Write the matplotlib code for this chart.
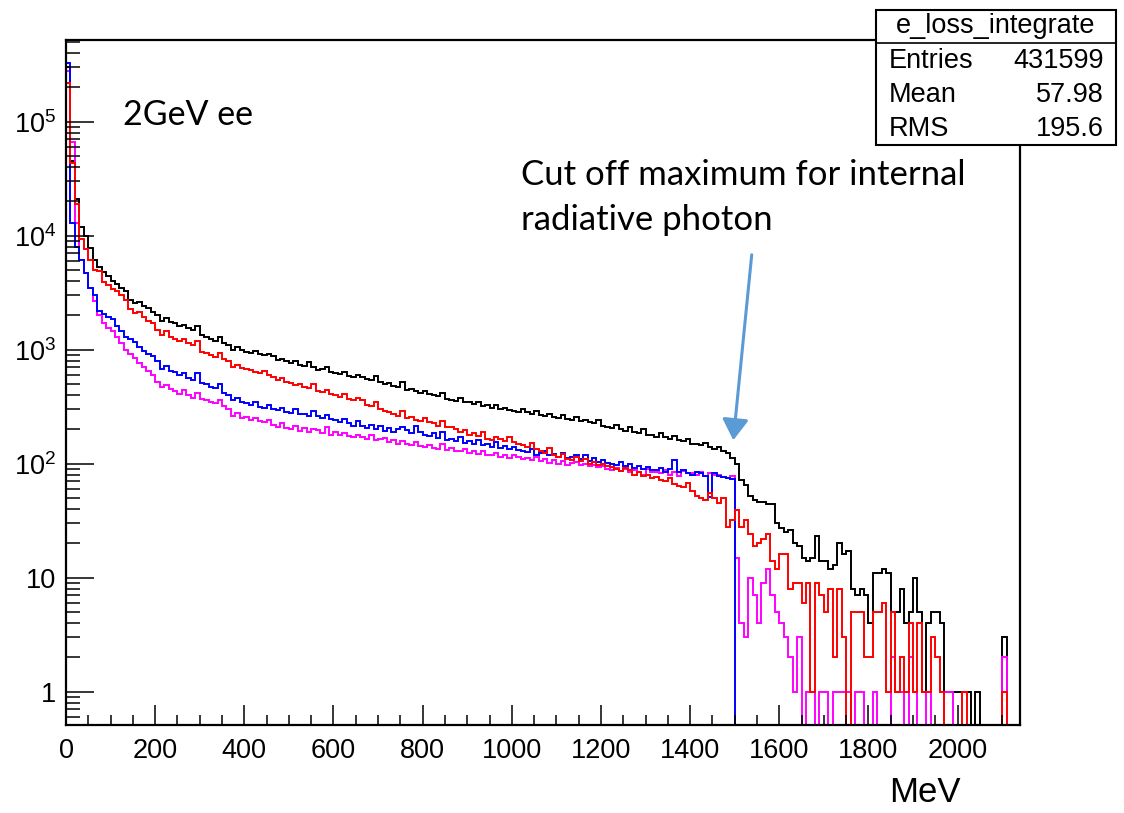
import numpy as np
import matplotlib
matplotlib.use("Agg")
import matplotlib.pyplot as plt
from matplotlib import font_manager as fm
from matplotlib.patches import Rectangle, FancyArrowPatch
from matplotlib.lines import Line2D
from matplotlib.ticker import FixedLocator, FixedFormatter, NullFormatter

# ---------------- data (counts per 10 MeV bin, 0..2140 MeV) ----------------
BIN_WIDTH = 10
X_MAX = 2140

black = (
    [300000, 45000, 21000, 12000, 10000, 7800, 6100, 5300, 4800, 4400,
     4000, 3800, 3500, 3300, 2700, 2550, 2600, 2400, 2300, 2150,
     2000, 1800, 1900, 1750, 1700, 1600, 1650, 1550, 1500, 1600,
     1350, 1300, 1250, 1200, 1280, 1150, 1100, 1000, 1050, 990,
     960, 940, 980, 920, 900, 920, 880, 810, 830, 790,
     770, 800, 740, 720, 780, 700, 660, 680, 700, 640,
     620, 610, 640, 590, 580, 600, 570, 550, 540, 590,
     520, 500, 510, 480, 470, 520, 440, 450, 430, 420,
     430, 410, 400, 390, 420, 370, 360, 355, 380, 350,
     345, 335, 350, 320, 325, 305, 330, 300, 310, 295,
     290, 285, 300, 285, 275, 290, 265, 260, 275, 255,
     250, 265, 245, 240, 258, 235, 240, 230, 225, 240,
     215, 210, 205, 220, 200, 195, 210, 190, 185, 200,
     180, 178, 172, 185, 170, 165, 175, 160, 158, 165,
     150, 148, 145, 152, 140, 135, 140, 128, 125, 112]
    + [100, 72, 65, 52, 48, 46, 46, 44, 44, 30, 27, 25, 26, 20, 19, 15, 14, 15,
       23, 14, 14, 12, 13, 20, 16, 17, 8]
    + [7, 8, 7, 4, 11, 11, 12, 11, 5, 5, 8, 4, 5, 10, 5, 1, 4, 5, 5, 4,
       1, 1, 1, 1, 1, 1, 0, 1, 0, 0, 0, 0, 0, 3, 0, 0, 0]
)

red = (
    [220000, 43000, 19000, 9400, 7700, 6100, 5000, 4900, 3900, 3700,
     3400, 3300, 3000, 2700, 2250, 2100, 2150, 1950, 1800, 1700,
     1500, 1350, 1450, 1300, 1250, 1200, 1250, 1150, 1100, 1180,
     950, 930, 900, 870, 940, 820, 800, 700, 740, 690,
     680, 660, 640, 620, 650, 600, 580, 540, 560, 520,
     510, 490, 500, 470, 460, 500, 430, 425, 445, 410,
     400, 385, 410, 370, 360, 375, 360, 330, 320, 345,
     300, 290, 285, 270, 260, 290, 250, 255, 240, 235,
     250, 230, 225, 215, 235, 210, 210, 200, 190, 198,
     180, 185, 175, 190, 165, 160, 172, 165, 158, 170,
     155, 150, 145, 140, 152, 135, 130, 125, 138, 120,
     115, 122, 110, 108, 115, 105, 110, 100, 104, 98,
     100, 95, 94, 90, 86, 92, 88, 80, 85, 78,
     80, 75, 77, 72, 70, 75, 66, 64, 62, 68,
     58, 52, 50, 48, 55, 50, 45, 50, 28, 32]
    + [39, 28, 32, 24, 19, 20, 22, 24, 14, 12, 16, 16, 8, 9, 9, 6, 9, 1, 9, 7,
       5, 8, 2, 8, 3, 0, 5, 5]
    + [5, 2, 2, 5, 5, 6, 1, 5, 1, 2, 1, 4, 1, 4, 1, 1, 3, 2, 1, 0,
       0, 0, 0, 1, 0, 0, 0, 0, 0, 0, 0, 0, 1, 0, 0, 0]
)

blue = (
    [330000, 13000, 7900, 6100, 4700, 3450, 3000, 2200, 2050, 1950,
     1850, 1600, 1450, 1300, 1250, 1170, 1050, 980, 920, 880,
     800, 680, 720, 650, 640, 600, 620, 560, 540, 620,
     510, 500, 470, 460, 500, 420, 400, 360, 380, 350,
     340, 330, 345, 316, 310, 325, 300, 295, 310, 285,
     280, 300, 270, 275, 262, 290, 260, 250, 268, 245,
     240, 230, 248, 225, 215, 238, 215, 205, 220, 200,
     212, 195, 205, 190, 200, 210, 196, 185, 212, 188,
     180, 175, 185, 168, 190, 162, 165, 158, 172, 152,
     158, 150, 162, 145, 148, 140, 155, 138, 144, 135,
     140, 132, 128, 127, 135, 120, 125, 130, 118, 122,
     115, 125, 112, 115, 120, 110, 118, 106, 112, 104,
     108, 102, 100, 97, 104, 95, 100, 92, 96, 90,
     93, 88, 88, 92, 85, 90, 108, 85, 88, 82,
     80, 85, 83, 78, 51, 82, 78, 76, 75, 74]
    + [0] * 64
)

magenta = (
    [280000, 66000, 13000, 6100, 4700, 3450, 2650, 2000, 1700, 1550,
     1450, 1300, 1150, 1000, 920, 850, 760, 700, 650, 600,
     520, 470, 490, 450, 430, 410, 440, 400, 380, 420,
     370, 360, 350, 340, 365, 320, 300, 260, 280, 250,
     255, 240, 250, 235, 230, 240, 220, 210, 225, 205,
     200, 215, 195, 205, 190, 200, 196, 185, 208, 180,
     190, 178, 185, 175, 170, 180, 172, 165, 178, 160,
     165, 168, 155, 160, 150, 158, 150, 145, 155, 142,
     140, 145, 138, 135, 150, 132, 137, 130, 128, 135,
     125, 130, 122, 128, 118, 120, 125, 115, 120, 112,
     118, 115, 110, 112, 108, 115, 105, 110, 102, 108,
     100, 106, 98, 101, 104, 97, 100, 95, 98, 93,
     95, 90, 88, 92, 86, 90, 84, 88, 85, 80,
     90, 84, 85, 82, 88, 80, 84, 78, 86, 82,
     83, 80, 85, 78, 82, 80, 79, 77, 75, 78]
    + [15, 4, 3, 10, 7, 4, 9, 12, 7, 5, 4, 3, 2, 1, 3, 0, 1, 1, 0, 1,
       1, 0, 1, 1, 1, 1, 0, 1, 1, 0, 0, 1, 0, 0, 0, 2, 1, 1, 0, 2,
       1, 0, 0, 1, 0, 0, 0, 1, 1, 0, 0, 0, 0, 0, 0, 0, 0, 0, 0, 0,
       2, 0, 0, 0]
)

x_tick_values = [0, 200, 400, 600, 800, 1000, 1200, 1400, 1600, 1800, 2000]
y_tick_values = [1, 10, 100, 1000, 10000, 100000]
y_tick_labels = ["1", "10", "$10^{2}$", "$10^{3}$", "$10^{4}$", "$10^{5}$"]

stats_title = "e_loss_integrate"
stats_rows = [("Entries", "431599"), ("Mean", "57.98"), ("RMS", "195.6")]

# ---------------- fonts ----------------
names = {f.name for f in fm.fontManager.ttflist}
NARROW = "Liberation Sans Narrow" if "Liberation Sans Narrow" in names else "Liberation Sans"
CAL = "Lato" if "Lato" in names else "DejaVu Sans"
plt.rcParams["font.family"] = [NARROW, "DejaVu Sans"]
plt.rcParams["mathtext.fontset"] = "custom"
plt.rcParams["mathtext.rm"] = NARROW
plt.rcParams["mathtext.it"] = NARROW
plt.rcParams["mathtext.bf"] = NARROW

W, H = 1124, 813
fig = plt.figure(figsize=(W / 100, H / 100), dpi=100)
fig.patch.set_facecolor("white")

def fx(px):
    return px / W

def fy(py):
    return 1 - py / H

L, R, T, B = 66, 1020, 40, 725
ax = fig.add_axes([fx(L), fy(B), fx(R - L), fy(T) - fy(B)])

edges = np.arange(0, X_MAX + BIN_WIDTH, BIN_WIDTH)
FLOOR = 1e-3
for vals, col in [(black, "#000000"), (magenta, "#FF00FF"), (blue, "#0000FF"), (red, "#FF0000")]:
    v = np.asarray(vals, dtype=float)
    assert len(v) == len(edges) - 1, (col, len(v))
    v = np.where(v > 0, v, FLOOR)
    ax.stairs(v, edges, baseline=FLOOR, color=col, lw=1.4)

ax.set_yscale("log")
ax.set_xlim(0, X_MAX)
ax.set_ylim(0.51, 5.2e5)

ax.xaxis.set_major_locator(FixedLocator(x_tick_values))
ax.xaxis.set_minor_locator(FixedLocator(np.arange(0, X_MAX + 1, 50)))
ax.yaxis.set_major_locator(FixedLocator(y_tick_values))
ax.yaxis.set_major_formatter(FixedFormatter(y_tick_labels))
minors = [m * 10.0 ** d for d in range(-1, 6) for m in range(2, 10)]
ax.yaxis.set_minor_locator(FixedLocator(minors))
ax.yaxis.set_minor_formatter(NullFormatter())

ax.tick_params(axis="x", which="major", direction="in", length=14.5, width=1.1,
               labelsize=19.5, pad=9, top=False)
ax.tick_params(axis="x", which="minor", direction="in", length=7.5, width=1.1, top=False)
ax.tick_params(axis="y", which="major", direction="in", length=20, width=1.1,
               labelsize=19.5, pad=7, right=False)
ax.tick_params(axis="y", which="minor", direction="in", length=10, width=1.1, right=False)
for s in ax.spines.values():
    s.set_linewidth(1.6)

# text annotations
fig.text(fx(123), fy(115), "2GeV ee", fontsize=24.5, family=CAL, va="center", ha="left")
fig.text(fx(521), fy(175), "Cut off maximum for internal", fontsize=25, family=CAL,
         va="center", ha="left")
fig.text(fx(521), fy(220), "radiative photon", fontsize=25, family=CAL,
         va="center", ha="left")
arrow = FancyArrowPatch((fx(752), fy(252)), (fx(733), fy(443)), transform=fig.transFigure,
                        arrowstyle="-|>,head_length=8,head_width=5", color="#5B9BD5",
                        lw=2.2, mutation_scale=1.6)
fig.add_artist(arrow)

fig.text(fx(925), fy(792), "MeV", fontsize=25, ha="center", va="center")

# stats box
bx0, bx1, by0, by1 = 876, 1116, 10, 145
box = Rectangle((fx(bx0), fy(by1)), fx(bx1 - bx0), fy(by0) - fy(by1), transform=fig.transFigure,
                facecolor="white", edgecolor="black", lw=1.5, zorder=5)
fig.add_artist(box)
fig.add_artist(Line2D([fx(bx0), fx(bx1)], [fy(43), fy(43)], transform=fig.transFigure,
                      color="black", lw=1.2, zorder=6))
fig.text(fx((bx0 + bx1) / 2), fy(26), stats_title, fontsize=19.5, ha="center", va="center", zorder=7)
for i, (k, val) in enumerate(stats_rows):
    yy = 61 + i * 34
    fig.text(fx(889), fy(yy), k, fontsize=19.5, ha="left", va="center", zorder=7)
    fig.text(fx(1104), fy(yy), val, fontsize=19.5, ha="right", va="center", zorder=7)

fig.savefig("out.png", dpi=100)
